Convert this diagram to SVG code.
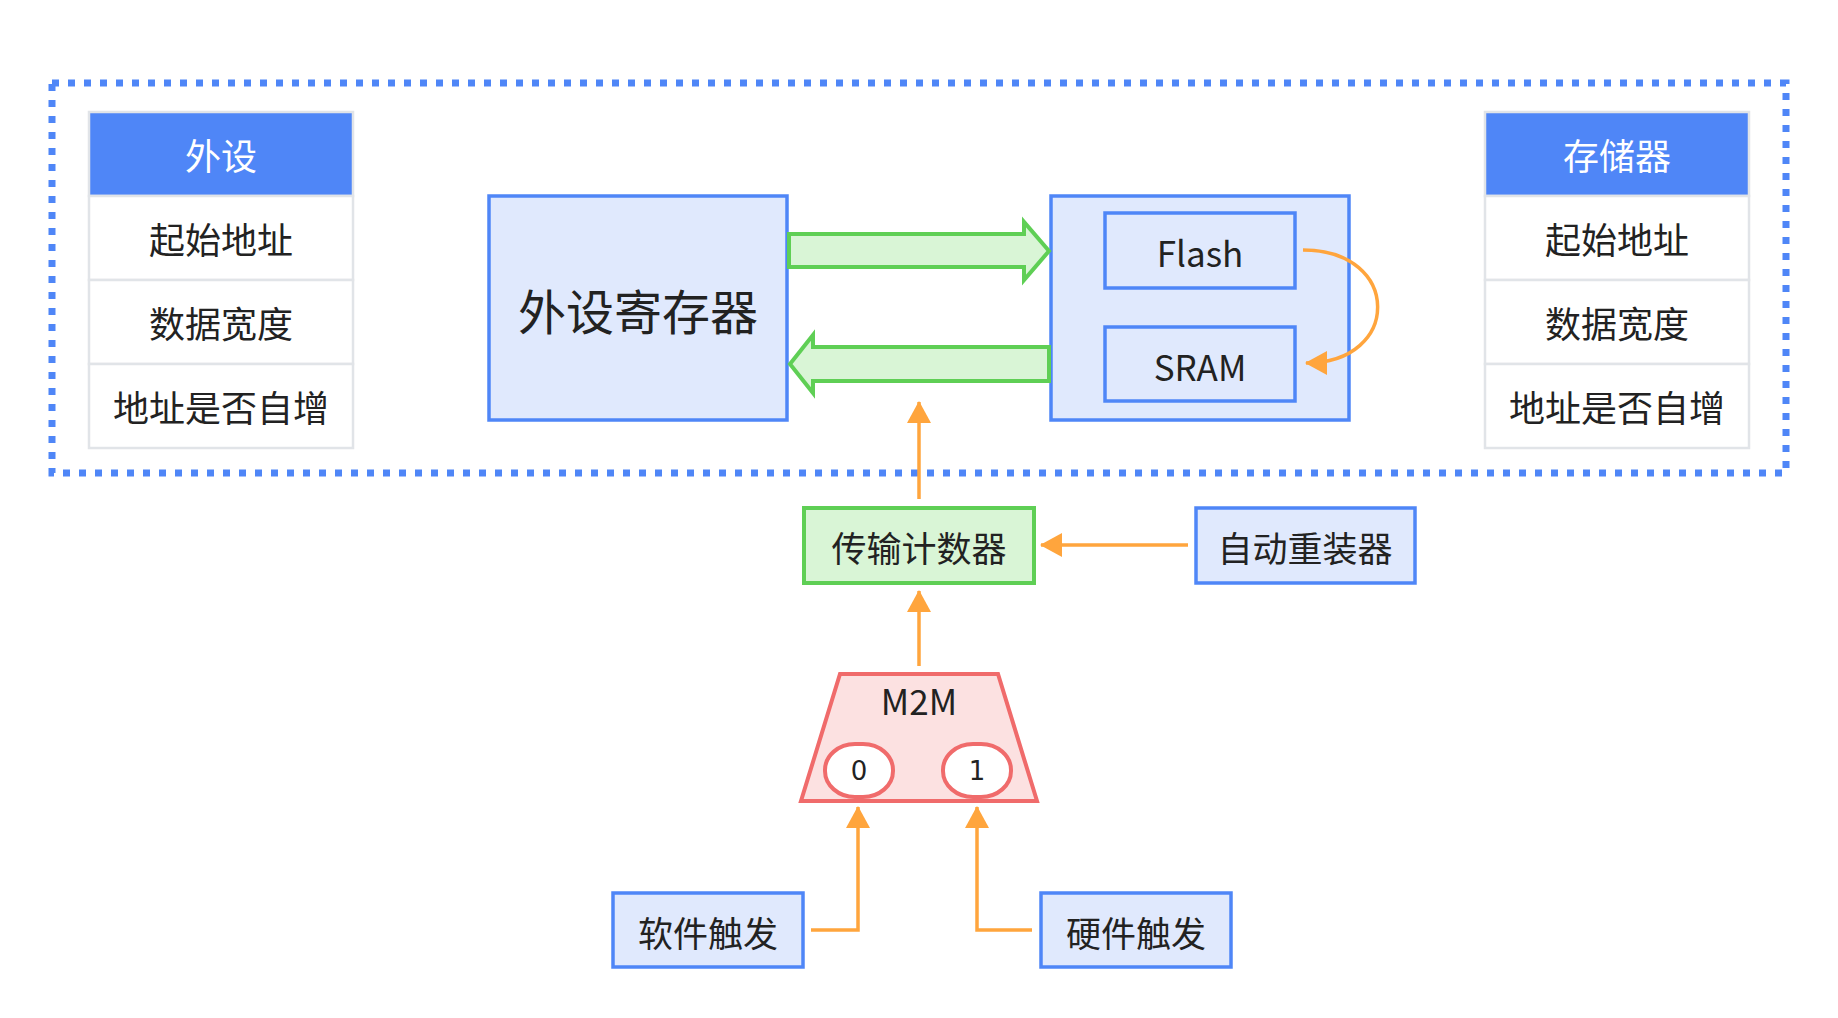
<svg xmlns="http://www.w3.org/2000/svg" width="1838" height="1018" viewBox="0 0 1838 1018">
<defs>
<style>
text{font-family:"Noto Sans CJK SC","Noto Sans",sans-serif;fill:#222;text-anchor:middle;dominant-baseline:central}
.blue{fill:#e0e9fd;stroke:#4f86f7;stroke-width:3.5}
.cell{fill:#fff;stroke:#e1e4e8;stroke-width:2.5}
.head{fill:#4f86f7;stroke:#e1e4e8;stroke-width:2.5}
.green{fill:#d9f5d6;stroke:#5fcf55;stroke-width:4}
.red{fill:#fce1e1;stroke:#f06b6b;stroke-width:4}
.pill{fill:#fff;stroke:#f06b6b;stroke-width:4}
.conn{fill:none;stroke:#ffa53d;stroke-width:3.5}
.t36{font-size:36px}
.white{fill:#fff}
.dig{font-family:"DejaVu Sans",sans-serif;font-size:26px}
</style>
<marker id="ah" markerUnits="userSpaceOnUse" viewBox="0 0 22 24" refX="21" refY="12" markerWidth="22" markerHeight="24" orient="auto">
<path d="M0,0 L22,12 L0,24 z" fill="#ffa53d"/>
</marker>
</defs>
<rect width="1838" height="1018" fill="#fff"/>
<rect id="boundary" x="52" y="83" width="1734" height="390" fill="none" stroke="#4f86f7" stroke-width="7" stroke-dasharray="7 9"/>

<g id="peripheral-table">
<rect class="head" x="89" y="112" width="264" height="84"/>
<text class="t36 white" x="221" y="154">外设</text>
<rect class="cell" x="89" y="196" width="264" height="84"/>
<text class="t36" x="221" y="238">起始地址</text>
<rect class="cell" x="89" y="280" width="264" height="84"/>
<text class="t36" x="221" y="322">数据宽度</text>
<rect class="cell" x="89" y="364" width="264" height="84"/>
<text class="t36" x="221" y="406">地址是否自增</text>
</g>

<g id="memory-table">
<rect class="head" x="1485" y="112" width="264" height="84"/>
<text class="t36 white" x="1617" y="154">存储器</text>
<rect class="cell" x="1485" y="196" width="264" height="84"/>
<text class="t36" x="1617" y="238">起始地址</text>
<rect class="cell" x="1485" y="280" width="264" height="84"/>
<text class="t36" x="1617" y="322">数据宽度</text>
<rect class="cell" x="1485" y="364" width="264" height="84"/>
<text class="t36" x="1617" y="406">地址是否自增</text>
</g>

<g id="periph-reg">
<rect class="blue" x="489" y="196" width="298" height="224"/>
<text x="638" y="309" font-size="48">外设寄存器</text>
</g>

<g id="memory">
<rect class="blue" x="1051" y="196" width="298" height="224"/>
</g>
<g id="flash">
<rect class="blue" x="1105" y="213" width="190" height="75"/>
<text x="1200" y="251" font-size="35">Flash</text>
</g>
<g id="sram">
<rect class="blue" x="1105" y="327" width="190" height="74"/>
<text x="1200" y="365" font-size="35">SRAM</text>
</g>

<g id="counter">
<rect class="green" x="804" y="508" width="230" height="75"/>
<text x="919" y="546" font-size="35">传输计数器</text>
</g>

<g id="reload">
<rect class="blue" x="1196" y="508" width="219" height="75"/>
<text x="1305" y="546" font-size="35">自动重装器</text>
</g>

<g id="m2m">
<polygon class="red" points="840,674 998,674 1037,801 801,801"/>
<text x="919" y="699" font-size="35">M2M</text>
<rect class="pill" x="825" y="744" width="68" height="53" rx="30" ry="26"/>
<text class="dig" x="859" y="771">0</text>
<rect class="pill" x="943" y="744" width="68" height="53" rx="30" ry="26"/>
<text class="dig" x="977" y="771">1</text>
</g>

<g id="soft">
<rect class="blue" x="613" y="893" width="190" height="74"/>
<text x="708" y="931" font-size="35">软件触发</text>
</g>
<g id="hard">
<rect class="blue" x="1041" y="893" width="190" height="74"/>
<text x="1136" y="931" font-size="35">硬件触发</text>
</g>

<g id="connectors">
<polygon class="green" points="789,234 1024,234 1024,222 1049,251 1024,280 1024,267 789,267"/>
<polygon class="green" points="1049,347 813,347 813,335 790,364 813,393 813,381 1049,381"/>
<path class="conn" d="M1303,250 C1402,250 1402,363 1306,363" marker-end="url(#ah)"/>
<path class="conn" d="M919,499 V402" marker-end="url(#ah)"/>
<path class="conn" d="M919,666 V591" marker-end="url(#ah)"/>
<path class="conn" d="M1188,545 H1041" marker-end="url(#ah)"/>
<path class="conn" d="M811,930 H858 V807" marker-end="url(#ah)"/>
<path class="conn" d="M1032,930 H977 V807" marker-end="url(#ah)"/>
</g>
</svg>
